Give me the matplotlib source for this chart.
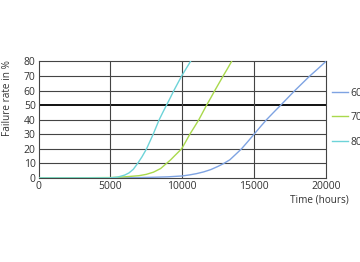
import matplotlib
matplotlib.use("Agg")
import matplotlib.pyplot as plt

plt.rcParams['font.family'] = ['Open Sans', 'DejaVu Sans']

# Data
series_names = ["60", "70", "80"]
colors = ["#7ea3e2", "#a9d94c", "#6dd3d8"]

t60 = [0, 5000, 7000, 8000, 9000, 10000, 10500, 11000, 11500, 12000, 12500, 12900, 13320, 13700,
       14130, 14570, 15000, 15430, 15870, 16360, 16860, 17350, 17840, 18360, 18880, 19450, 20000]
f60 = [0, 0.1, 0.3, 0.5, 0.8, 1.4, 2.1, 3.0, 4.2, 5.8, 8.0, 10, 12.5, 16,
       20, 25, 30, 35, 40, 45, 50, 55, 60, 65, 70, 75, 80]

t70 = [0, 5000, 6000, 7000, 7500, 8000, 8500, 8910, 9200, 9500, 9960, 10250, 10530, 10850,
       11160, 11430, 11700, 11990, 12270, 12560, 12850, 13150, 13440]
f70 = [0, 0.3, 0.8, 1.6, 2.5, 4.0, 6.5, 10, 12.5, 15.5, 20, 25, 30, 35,
       40, 45, 50, 55, 60, 65, 70, 75, 80]

t80 = [0, 5000, 5500, 6000, 6300, 6600, 6900, 7200, 7520, 7750, 7980, 8190, 8400, 8650,
       8910, 9170, 9420, 9690, 9960, 10270, 10580]
f80 = [0, 0.1, 0.6, 2.0, 3.5, 6.0, 10, 14.5, 20, 25, 30, 35, 40, 45,
       50, 55, 60, 65, 70, 75, 80]

x_ticks = [0, 5000, 10000, 15000, 20000]
y_ticks = [0, 10, 20, 30, 40, 50, 60, 70, 80]

fig = plt.figure(figsize=(3.6, 2.62), dpi=100)
ax = fig.add_axes([0.107, 0.3206, 0.798, 0.4447])

for t, f, c, n in zip([t60, t70, t80], [f60, f70, f80], colors, series_names):
    ax.plot(t, f, color=c, lw=1.0, label=n, zorder=3, solid_joinstyle="round")

ax.set_xlim(0, 20000)
ax.set_ylim(0, 80)
ax.set_xticks(x_ticks)
ax.set_yticks(y_ticks)
ax.tick_params(length=0, labelsize=7.5, colors="#333333", pad=2)

for y in y_ticks[1:-1]:
    ax.axhline(y, color="#111111" if y == 50 else "#444444", lw=1.4 if y == 50 else 0.8, zorder=1)
for x in x_ticks[1:-1]:
    ax.axvline(x, color="#444444", lw=0.8, zorder=1)
for s in ax.spines.values():
    s.set_color("#444444")
    s.set_linewidth(0.8)

ax.set_ylabel("Failure rate in %", fontsize=7.2, color="#333333")
ax.yaxis.set_label_coords(-0.09, 0.69)
fig.text(0.97, 0.235, "Time (hours)", fontsize=7.2, color="#333333", ha="right", va="center")

leg = ax.legend(loc="upper left", bbox_to_anchor=(1.0, 0.83), frameon=False,
                fontsize=7.5, handlelength=1.5, labelspacing=1.3, handletextpad=0.3,
                borderaxespad=0.2)
for txt in leg.get_texts():
    txt.set_color("#333333")

fig.savefig("out.png", dpi=100)
